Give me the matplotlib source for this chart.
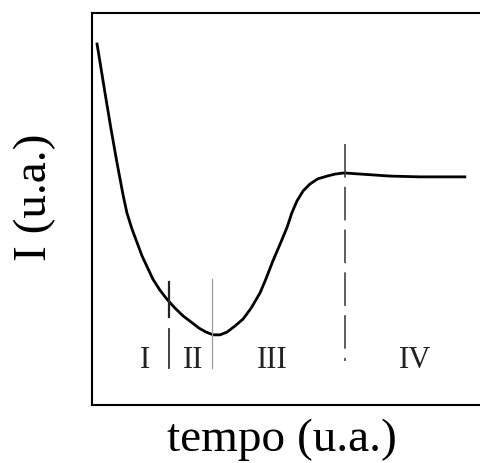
import numpy as np
import matplotlib.pyplot as plt

# curve (arbitrary units, 0-10 on both axes)
tempo = [0.13, 0.34, 0.49, 0.64, 0.80, 0.90, 1.03, 1.29, 1.57,
         1.75, 1.93, 2.14, 2.35, 2.55, 2.76, 2.94, 3.12,
         3.30, 3.48, 3.69, 3.89, 4.10, 4.33, 4.48, 4.66,
         4.85, 5.03, 5.15, 5.28, 5.44, 5.62, 5.82, 6.06,
         6.26, 6.49, 7.24, 7.68, 8.45, 9.61]
corrente = [9.21, 7.93, 7.04, 6.20, 5.36, 4.90, 4.49, 3.80, 3.21,
            2.93, 2.70, 2.47, 2.27, 2.12, 1.96, 1.86, 1.79,
            1.79, 1.86, 2.02, 2.19, 2.47, 2.86, 3.21, 3.67,
            4.11, 4.54, 4.90, 5.20, 5.46, 5.64, 5.77, 5.84,
            5.89, 5.92, 5.87, 5.84, 5.82, 5.82]

# region boundaries and labels
limites = [1.98, 3.09, 6.51]
regioes = ['I', 'II', 'III', 'IV']
pos_regioes = [1.37, 2.60, 4.64, 8.32]

fig = plt.figure(figsize=(4.8, 4.64), dpi=100)
ax = fig.add_axes([0.1917, 0.125, 0.8083, 0.8448])
ax.set_xlim(0, 10)
ax.set_ylim(0, 10)

ax.plot(tempo, corrente, color='black', lw=2.0, solid_joinstyle='round')

# boundary I / II : two short strokes
ax.plot([limites[0], limites[0]], [3.14, 2.24], color='#222222', lw=1.6)
ax.plot([limites[0], limites[0]], [1.94, 0.94], color='#333333', lw=1.3)
# boundary II / III : thin grey line
ax.plot([limites[1], limites[1]], [3.21, 0.94], color='#999999', lw=0.9)
# boundary III / IV : dashed
ax.plot([limites[2], limites[2]], [6.66, 1.12], color='#333333', lw=1.1,
        linestyle=(0, (22, 6)))

for nome, x in zip(regioes, pos_regioes):
    ax.text(x, 1.15, nome, ha='center', va='center', fontsize=22,
            family='Liberation Serif', color='#222222')

for lado in ['top', 'left', 'bottom']:
    ax.spines[lado].set_linewidth(1.5)
ax.spines['right'].set_visible(False)
ax.set_xticks([])
ax.set_yticks([])

ax.set_xlabel('tempo (u.a.)', fontsize=34, family='Liberation Serif')
ax.xaxis.set_label_coords(0.49, -0.033)
ax.set_ylabel('I (u.a.)', fontsize=34, family='Liberation Serif', va='center')
ax.yaxis.set_label_coords(-0.147, 0.533)

fig.savefig('out.png', dpi=100)
